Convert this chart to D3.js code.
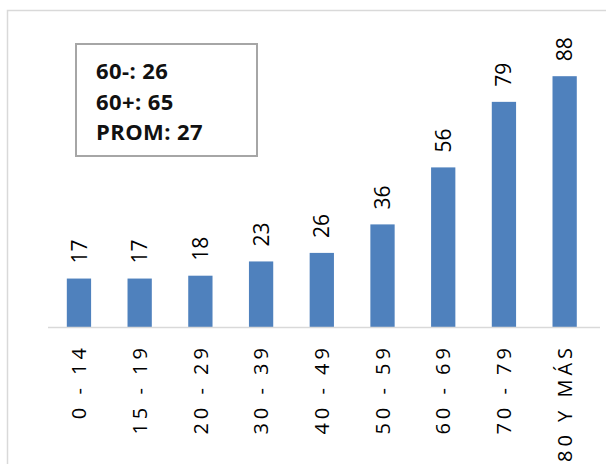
<!DOCTYPE html>
<html>
<head>
<meta charset="utf-8">
<title>Edades</title>
<style>
  body { margin: 0; background: #fff; }
  text { font-family: "Open Sans", "Liberation Sans", sans-serif; }
</style>
</head>
<body>
<script src="https://d3js.org/d3.v7.min.js"></script>
<script>
// datos
var categorias = ["0 - 14", "15 - 19", "20 - 29", "30 - 39", "40 - 49", "50 - 59", "60 - 69", "70 - 79", "80 Y MÁS"];
var valores = [17, 17, 18, 23, 26, 36, 56, 79, 88];
var resumen = ["60-: 26", "60+: 65", "PROM: 27"];

var azul = "#4f81bd";
var W = 606, H = 464;

var svg = d3.select("body").append("svg")
  .attr("width", W)
  .attr("height", H);

// marco
svg.append("path")
  .attr("d", "M7.5," + H + "V10.5H" + W)
  .attr("fill", "none")
  .attr("stroke", "#d9d9d9")
  .attr("stroke-width", 1.5);

var x = d3.scaleBand()
  .domain(categorias)
  .range([48.6, 595])
  .paddingInner(0.6)
  .paddingOuter(0.3);

var y = d3.scaleLinear()
  .domain([0, 100])
  .range([327, 42]);

// barras
svg.selectAll("rect.bar")
  .data(valores)
  .enter().append("rect")
  .attr("class", "bar")
  .attr("x", function(d, i) { return x(categorias[i]); })
  .attr("y", function(d) { return y(d); })
  .attr("width", x.bandwidth())
  .attr("height", function(d) { return y(0) - y(d); })
  .attr("fill", azul);

// eje x
var eje = svg.append("g")
  .attr("transform", "translate(0," + y(0) + ")")
  .call(d3.axisBottom(x).tickSize(0).tickSizeOuter(0));
eje.select(".domain").attr("stroke", "#d9d9d9").attr("stroke-width", 1.5)
  .attr("d", "M48,0.5H600");
eje.selectAll("text")
  .attr("transform", "rotate(-90)")
  .attr("x", -17)
  .attr("y", 0)
  .attr("dy", "0.36em")
  .attr("text-anchor", "end")
  .style("font-size", "20px")
  .style("letter-spacing", "4px")
  .style("font-family", "\"Open Sans\", sans-serif")
  .attr("fill", "#000");

// etiquetas de valores
svg.selectAll("text.valor")
  .data(valores)
  .enter().append("text")
  .attr("class", "valor")
  .attr("transform", function(d, i) {
    return "translate(" + (x(categorias[i]) + x.bandwidth() / 2) + "," + (y(d) - 15) + ") rotate(-90)";
  })
  .attr("dy", "0.36em")
  .attr("text-anchor", "start")
  .style("font-size", "21px")
  .attr("fill", "#000")
  .text(function(d) { return d; });

// cuadro de resumen
svg.append("rect")
  .attr("x", 76)
  .attr("y", 44)
  .attr("width", 181)
  .attr("height", 112)
  .attr("fill", "#fff")
  .attr("stroke", "#a6a6a6")
  .attr("stroke-width", 2);

svg.selectAll("text.resumen")
  .data(resumen)
  .enter().append("text")
  .attr("class", "resumen")
  .attr("x", 96)
  .attr("y", function(d, i) { return 79 + i * 30.5; })
  .style("font-size", "22px")
  .style("font-weight", "bold")
  .style("letter-spacing", "0.4px")
  .attr("fill", "#111")
  .text(function(d) { return d; });
</script>
</body>
</html>
